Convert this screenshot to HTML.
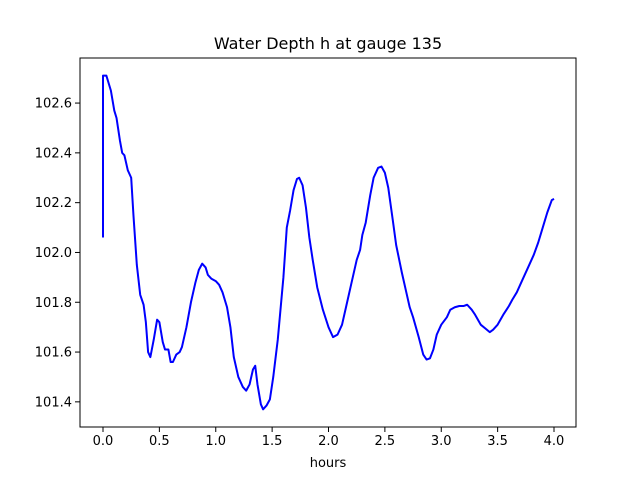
<!DOCTYPE html>
<html><head><meta charset="utf-8"><style>
body{margin:0;background:#fff}
svg text{font-family:"DejaVu Sans","Liberation Sans",sans-serif;font-size:13px;fill:#000}
</style></head><body>
<svg id="chart" width="640" height="480" xmlns="http://www.w3.org/2000/svg">
<rect width="640" height="480" fill="#fff"/>
<text x="328" y="49" text-anchor="middle" style="font-size:16px">Water Depth h at gauge 135</text>
<g id="axes"></g>
<text x="328" y="467" text-anchor="middle">hours</text>
</svg>
<script>
const times=[0,0,0.03,0.07,0.1,0.12,0.15,0.17,0.19,0.22,0.25,0.27,0.3,0.33,0.36,0.38,0.4,0.42,0.45,0.48,0.5,0.53,0.55,0.58,0.6,0.62,0.65,0.68,0.7,0.74,0.78,0.82,0.85,0.88,0.91,0.93,0.96,1.0,1.03,1.06,1.1,1.13,1.16,1.2,1.24,1.27,1.3,1.33,1.35,1.37,1.4,1.42,1.45,1.48,1.51,1.55,1.6,1.63,1.66,1.69,1.72,1.74,1.77,1.8,1.83,1.86,1.9,1.95,2.0,2.04,2.08,2.12,2.15,2.2,2.25,2.28,2.3,2.33,2.37,2.4,2.44,2.47,2.5,2.53,2.57,2.6,2.65,2.69,2.72,2.75,2.8,2.84,2.87,2.9,2.93,2.96,3.0,3.05,3.08,3.12,3.16,3.2,3.23,3.27,3.3,3.35,3.39,3.43,3.46,3.5,3.55,3.6,3.63,3.67,3.72,3.77,3.82,3.86,3.9,3.94,3.98,4.0];
const depths=[102.06,102.71,102.71,102.65,102.57,102.54,102.45,102.40,102.39,102.33,102.30,102.15,101.95,101.83,101.79,101.72,101.60,101.58,101.65,101.73,101.72,101.64,101.61,101.61,101.56,101.56,101.59,101.60,101.62,101.70,101.80,101.88,101.93,101.955,101.94,101.91,101.895,101.885,101.87,101.84,101.78,101.70,101.58,101.50,101.46,101.445,101.47,101.53,101.545,101.47,101.39,101.37,101.385,101.41,101.50,101.65,101.90,102.10,102.17,102.25,102.295,102.30,102.27,102.18,102.06,101.97,101.86,101.77,101.70,101.66,101.67,101.71,101.77,101.87,101.97,102.01,102.07,102.12,102.23,102.30,102.34,102.345,102.32,102.26,102.13,102.03,101.92,101.84,101.78,101.74,101.66,101.59,101.57,101.575,101.61,101.67,101.71,101.74,101.77,101.78,101.785,101.785,101.79,101.77,101.75,101.71,101.695,101.68,101.69,101.71,101.75,101.785,101.81,101.84,101.89,101.94,101.99,102.04,102.10,102.16,102.21,102.215];
const xTicks=[0,0.5,1,1.5,2,2.5,3,3.5,4];
const xTickLabels=["0.0","0.5","1.0","1.5","2.0","2.5","3.0","3.5","4.0"];
const yTicks=[101.4,101.6,101.8,102.0,102.2,102.4,102.6];
const yTickLabels=["101.4","101.6","101.8","102.0","102.2","102.4","102.6"];
const L=80,R=576,T=58,B=427;
const xMin=-0.204,xMax=4.195,yMin=101.299,yMax=102.781;
const X=v=>L+(v-xMin)/(xMax-xMin)*(R-L);
const Y=v=>B-(v-yMin)/(yMax-yMin)*(B-T);
const NS="http://www.w3.org/2000/svg";
const g=document.getElementById('axes');
function mk(t,a){const e=document.createElementNS(NS,t);for(const k in a)e.setAttribute(k,a[k]);g.appendChild(e);return e;}
let d=times.map((t,i)=>(i?'L':'M')+X(t).toFixed(2)+','+Y(depths[i]).toFixed(2)).join('');
const line=mk('path',{d:d,fill:'none',stroke:'#0000ff','stroke-width':2,'stroke-linejoin':'round'});


const frame=mk('rect',{x:L,y:T,width:R-L,height:B-T,fill:'none',stroke:'#000','stroke-width':1});


xTicks.forEach((v,i)=>{
 const tk=mk('line',{x1:X(v),x2:X(v),y1:B,y2:B+5,stroke:'#000','stroke-width':1});
 
 
 const tx=mk('text',{x:X(v),y:B+18,'text-anchor':'middle'});tx.textContent=xTickLabels[i];
 
 
});
yTicks.forEach((v,i)=>{
 const tk=mk('line',{x1:L-5,x2:L,y1:Y(v),y2:Y(v),stroke:'#000','stroke-width':1});
 
 
 const tx=mk('text',{x:L-8,y:Y(v)+4.5,'text-anchor':'end'});tx.textContent=yTickLabels[i];
 
 
});
</script>
</body></html>
